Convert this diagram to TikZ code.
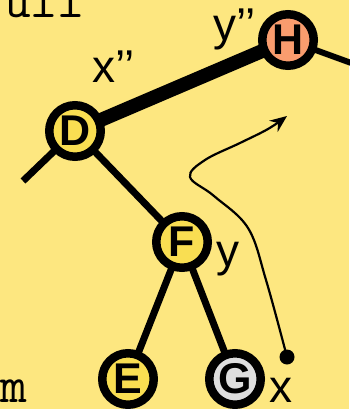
\documentclass[tikz,border=0pt]{standalone}
\usepackage{fontspec}
\setmainfont{Liberation Sans}
\usetikzlibrary{arrows.meta}
\definecolor{bgy}{RGB}{253,231,128}
\definecolor{ny}{RGB}{249,222,82}
\definecolor{nh}{RGB}{249,156,110}
\definecolor{ng}{RGB}{222,222,222}
\pgfdeclarelayer{bg}
\pgfdeclarelayer{edges}
\pgfsetlayers{bg,edges,main}
\tikzset{
  tn/.style={circle, draw=black, line width=8.5pt, minimum size=51.5pt, inner sep=0pt,
    font=\fontsize{43}{43}\selectfont\bfseries},
  lab/.style={font=\fontsize{46}{46}\selectfont, inner sep=0pt, anchor=base west},
  mono/.style={font=\fontsize{52}{52}\selectfont\ttfamily, inner sep=0pt, anchor=base west},
  edge/.style={line width=7pt},
  fat/.style={line width=14pt},
}
\begin{document}
\begin{tikzpicture}[x=1pt,y=-1pt]
\useasboundingbox (0,0) rectangle (349,409);
\begin{pgfonlayer}{bg}
\fill[bgy] (0,0) rectangle (349,409);
\end{pgfonlayer}
\clip (0,0) rectangle (349,409);
\node[tn, fill=ny] (D) at (75,131) {D};
\node[tn, fill=nh] (H) at (288,40) {H};
\node[tn, fill=ny] (F) at (182,242) {F};
\node[tn, fill=ny] (E) at (128,379) {E};
\node[tn, fill=ng] (G) at (235,379) {G};
\coordinate (Dl) at (23,181);
\coordinate (Hr) at (365,68);
\begin{pgfonlayer}{edges}
\draw[fat] (D.center) -- (H.center);
\draw[line width=6pt] (H.center) -- (Hr);
\draw[edge] (D.center) -- (Dl);
\draw[edge] (D.center) -- (F.center);
\draw[edge] (F.center) -- (E.center);
\draw[edge] (F.center) -- (G.center);
\end{pgfonlayer}
\node[lab] (lx2) at (92,83) {x’’};
\node[lab] (ly2) at (213,41) {y’’};
\node[lab] (ly) at (216,266) {y};
\node[lab] (lx) at (269,402) {x};
\node[mono] (tull) at (4,18) {ull};
\node[mono] (tm) at (0,402) {m};
\node[circle, fill=black, minimum size=15pt, inner sep=0pt] (dot) at (287,357) {};
\coordinate (tip) at (287,116);
\draw[line width=2.2pt, -{Stealth[length=17pt,width=14pt]}]
  plot[smooth, tension=0.6] coordinates {(dot.center) (266,280) (248,228) (214,196) (190,177) (205,160) (240,143) (268,129) (tip)};
\end{tikzpicture}
\end{document}
